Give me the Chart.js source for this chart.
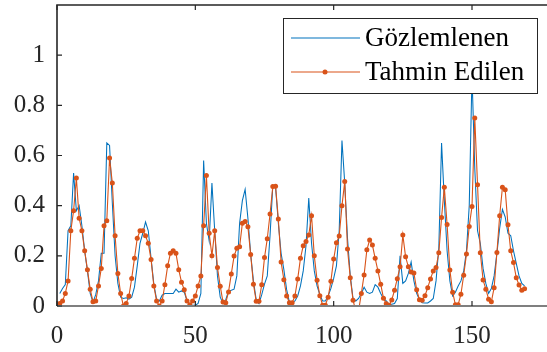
<!DOCTYPE html>
<html>
<head>
<meta charset="utf-8">
<script src="https://cdn.jsdelivr.net/npm/chart.js@4"></script>
<style>
  html, body { margin: 0; padding: 0; background: #fff; overflow: hidden; }
  canvas { display: block; }
</style>
</head>
<body>
<canvas id="myChart" width="560" height="352"></canvas>
<script>
// Observed (blue) and predicted (orange) series, sample 1..169
const observed = [
  0.05, 0.07, 0.085, 0.30, 0.32, 0.53, 0.38, 0.40, 0.32, 0.22,
  0.14, 0.05, 0.015, 0.045, 0.10, 0.21, 0.21, 0.65, 0.64, 0.41,
  0.20, 0.09, 0.035, 0.03, 0.033, 0.027, 0.035, 0.075, 0.16, 0.25,
  0.29, 0.335, 0.30, 0.19, 0.087, 0.027, 0.02, 0.043, 0.05, 0.05,
  0.05, 0.05, 0.067, 0.055, 0.06, 0.055, 0.02, 0.003, 0.003, 0.003,
  0.01, 0.05, 0.58, 0.33, 0.26, 0.49, 0.30, 0.12, 0.035, 0.01,
  0.025, 0.06, 0.063, 0.067, 0.12, 0.33, 0.42, 0.465, 0.35, 0.207,
  0.10, 0.025, 0.01, 0.045, 0.087, 0.12, 0.28, 0.48, 0.475, 0.33,
  0.21, 0.145, 0.065, 0.015, 0.013, 0.02, 0.04, 0.08, 0.14, 0.24,
  0.43, 0.25, 0.14, 0.08, 0.045, 0.02, 0.02, 0.04, 0.07, 0.11,
  0.16, 0.30, 0.66, 0.49, 0.27, 0.12, 0.03, 0.02, 0.03, 0.05,
  0.075, 0.055, 0.05, 0.055, 0.085, 0.075, 0.05, 0.03, 0.02, 0.007,
  0.007, 0.01, 0.03, 0.20, 0.09, 0.10, 0.13, 0.175, 0.10, 0.05,
  0.025, 0.013, 0.012, 0.012, 0.02, 0.03, 0.10, 0.23, 0.65, 0.42,
  0.22, 0.10, 0.04, 0.055, 0.08, 0.10, 0.14, 0.22, 0.40, 0.92,
  0.55, 0.30, 0.25, 0.15, 0.09, 0.05, 0.07, 0.12, 0.21, 0.31,
  0.385, 0.355, 0.29, 0.28, 0.22, 0.17, 0.12, 0.09, 0.08
];

const predicted = [
  0.01, 0.02, 0.05, 0.10, 0.30, 0.38, 0.51, 0.35, 0.30, 0.22,
  0.145, 0.067, 0.017, 0.02, 0.08, 0.15, 0.32, 0.34, 0.59, 0.49,
  0.28, 0.13, 0.05, 0.0, 0.01, 0.04, 0.11, 0.19, 0.27, 0.30,
  0.30, 0.28, 0.25, 0.185, 0.08, 0.02, 0.0, 0.02, 0.085, 0.16,
  0.21, 0.22, 0.21, 0.145, 0.095, 0.065, 0.02, 0.005, 0.02, 0.04,
  0.08, 0.12, 0.32, 0.52, 0.29, 0.20, 0.30, 0.153, 0.079, 0.016,
  0.013, 0.056, 0.128, 0.199, 0.23, 0.236, 0.33, 0.337, 0.316, 0.205,
  0.087, 0.019, 0.019, 0.085, 0.193, 0.268, 0.367, 0.476, 0.477, 0.347,
  0.175, 0.105, 0.04, 0.013, 0.013, 0.04, 0.108, 0.19, 0.24, 0.257,
  0.283, 0.36, 0.20, 0.103, 0.041, 0.003, 0.003, 0.035, 0.099, 0.187,
  0.252, 0.279, 0.40, 0.496, 0.227, 0.113, 0.023, -0.02, -0.02, 0.05,
  0.124, 0.224, 0.263, 0.243, 0.19, 0.14, 0.087, 0.031, 0.009, 0.003,
  0.024, 0.063, 0.109, 0.156, 0.283, 0.196, 0.156, 0.136, 0.132, 0.065,
  0.025, 0.023, 0.041, 0.073, 0.108, 0.14, 0.153, 0.212, 0.353, 0.473,
  0.325, 0.144, 0.055, 0.005, 0.005, 0.047, 0.123, 0.207, 0.317, 0.397,
  0.75, 0.483, 0.212, 0.104, 0.067, 0.027, 0.017, 0.073, 0.213, 0.36,
  0.473, 0.463, 0.324, 0.22, 0.173, 0.113, 0.084, 0.063, 0.069
];

const sampleIndex = observed.map((_, i) => i + 1);
const xTicks = [0, 50, 100, 150];
const yTicks = [0, 0.2, 0.4, 0.6, 0.8, 1];
const seriesNames = ['Gözlemlenen', 'Tahmin Edilen'];

const BLUE = '#0072BD';
const ORANGE = '#D95319';
const AXIS = '#262626';
const FONT = '"Liberation Serif", "Times New Roman", serif';

// frame, inside ticks and the legend box
const framePlugin = {
    id: 'frame',
    afterDraw(chart) {
        const { ctx, chartArea: a, scales } = chart;
        ctx.save();
        // bottom line (grey) and left/top lines
        ctx.strokeStyle = '#7f7f7f';
        ctx.lineWidth = 2;
        ctx.beginPath();
        ctx.moveTo(a.left, a.bottom);
        ctx.lineTo(a.right + 10, a.bottom);
        ctx.stroke();

        ctx.strokeStyle = AXIS;
        ctx.lineWidth = 1.6;
        ctx.beginPath();
        ctx.moveTo(a.left, a.bottom);
        ctx.lineTo(a.left, a.top);
        ctx.lineTo(a.right + 10, a.top);
        ctx.stroke();

        ctx.lineWidth = 1.2;
        ctx.beginPath();
        yTicks.forEach(v => {
            const y = scales.y.getPixelForValue(v);
            ctx.moveTo(a.left, y);
            ctx.lineTo(a.left + 5, y);
        });
        xTicks.forEach(v => {
            const x = scales.x.getPixelForValue(v);
            ctx.moveTo(x, a.top);
            ctx.lineTo(x, a.top + 5);
            ctx.moveTo(x, a.bottom);
            ctx.lineTo(x, a.bottom - 5);
        });
        ctx.stroke();

        // legend
        const lx = 283, ly = 18, lw = 254, lh = 75;
        ctx.fillStyle = '#fff';
        ctx.fillRect(lx, ly, lw, lh);
        ctx.strokeStyle = AXIS;
        ctx.lineWidth = 1;
        ctx.strokeRect(lx + 0.5, ly + 0.5, lw, lh);

        const rows = [38, 72];
        const colors = [BLUE, ORANGE];
        ctx.font = '27px ' + FONT;
        ctx.textBaseline = 'middle';
        ctx.textAlign = 'left';
        rows.forEach((y, k) => {
            ctx.strokeStyle = colors[k];
            ctx.lineWidth = 1.1;
            ctx.beginPath();
            ctx.moveTo(291, y);
            ctx.lineTo(360, y);
            ctx.stroke();
            if (k === 1) {
                ctx.fillStyle = ORANGE;
                ctx.beginPath();
                ctx.arc(325, y, 2.5, 0, Math.PI * 2);
                ctx.fill();
            }
            ctx.fillStyle = '#000';
            ctx.fillText(seriesNames[k], 365, y + 1);
        });
        ctx.restore();
    }
};

function initChart() {
    const ctx = document.getElementById('myChart').getContext('2d');
    new Chart(ctx, {
        type: 'line',
        data: {
            datasets: [{
                label: seriesNames[0],
                data: sampleIndex.map((x, i) => ({ x: x, y: observed[i] })),
                borderColor: BLUE,
                borderWidth: 1.05,
                pointRadius: 0,
                tension: 0,
                order: 2
            }, {
                label: seriesNames[1],
                data: sampleIndex.map((x, i) => ({ x: x, y: predicted[i] })),
                borderColor: ORANGE,
                backgroundColor: ORANGE,
                borderWidth: 1.1,
                pointRadius: 2.5,
                pointBorderWidth: 0,
                pointBackgroundColor: ORANGE,
                tension: 0,
                order: 1
            }]
        },
        options: {
            responsive: false,
            animation: false,
            layout: { padding: { top: 5, right: 5, left: 0, bottom: 0 } },
            plugins: {
                legend: { display: false },
                tooltip: { enabled: false }
            },
            scales: {
                x: {
                    type: 'linear',
                    min: 0,
                    max: 180,
                    afterBuildTicks: s => { s.ticks = xTicks.map(v => ({ value: v })); },
                    afterFit: s => {
                        s.height = 46;
                        s.paddingLeft = 0;
                        s.paddingRight = 0;
                    },
                    grid: { display: false, drawTicks: false },
                    border: { display: false },
                    ticks: {
                        color: AXIS,
                        padding: 15,
                        maxRotation: 0,
                        font: { family: FONT, size: 25 }
                    }
                },
                y: {
                    min: 0,
                    max: 1.2,
                    afterBuildTicks: s => { s.ticks = yTicks.map(v => ({ value: v })); },
                    afterFit: s => {
                        s.width = 57;
                        s.paddingTop = 0;
                        s.paddingBottom = 0;
                    },
                    grid: { display: false, drawTicks: false },
                    border: { display: false },
                    ticks: {
                        color: AXIS,
                        padding: 12,
                        font: { family: FONT, size: 25 },
                        callback: v => String(Math.round(v * 10) / 10)
                    }
                }
            }
        },
        plugins: [framePlugin]
    });
}

document.addEventListener('DOMContentLoaded', initChart);
</script>
</body>
</html>
